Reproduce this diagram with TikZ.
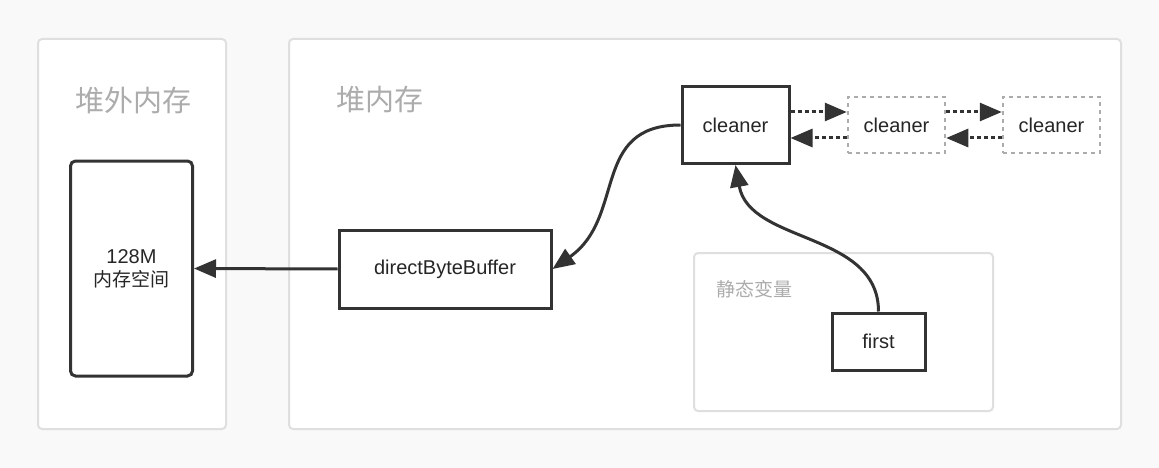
\documentclass[tikz,border=0pt]{standalone}
\usepackage{fontspec}
\setmainfont{Liberation Sans}
\newfontfamily\cjk{Noto Sans CJK SC}
\usetikzlibrary{arrows.meta}

\begin{document}
\begin{tikzpicture}[
        % 1pt 对应参考图中的 1 像素
        x=1pt, y=1pt,
        panel/.style={draw=gray!25, fill=white, line width=2pt, rounded corners=4pt},
        title/.style={text=gray!65, font=\cjk\fontsize{29}{32}\selectfont},
        subtitle/.style={text=gray!65, font=\cjk\fontsize{19}{21}\selectfont},
        box/.style={draw=black!80, fill=white, line width=3pt, align=center, text=black!85, font=\fontsize{20}{23}\selectfont},
        ghost/.style={draw=gray!65, fill=white, line width=2.5pt, dash pattern=on 4pt off 4pt, text=black!85, font=\fontsize{20}{23}\selectfont},
        % 箭头样式
        link/.style={-{Triangle[length=22pt,width=18pt]}, line width=3pt, draw=black!80},
        dashlink/.style={link, dash pattern=on 4pt off 3pt}
    ]

        % --- 参数定义 ---
        \def\gap{13}   % 双向虚线箭头的上下偏移

        % --- 1. 背景与面板 ---
        \fill[gray!5] (0,0) rectangle (1159,-468);
        \useasboundingbox (0,0) rectangle (1159,-468);
        \node[panel, minimum width=188pt, minimum height=390pt] (offheap) at (132,-234) {};
        \node[panel, minimum width=832pt, minimum height=390pt] (onheap) at (705,-234) {};
        \node[panel, minimum width=299pt, minimum height=158pt] (static) at (843.5,-332) {};

        % --- 2. 区域标题 ---
        \node[title] (offtitle) at (133,-100) {堆外内存};
        \node[title] (ontitle) at (379.5,-100) {堆内存};
        \node[subtitle] (statictitle) at (754,-289) {静态变量};

        % --- 3. 方框 ---
        \node[box, rounded corners=5pt, minimum width=122pt, minimum height=215pt] (mem) at (131.5,-268.5) {128M\\{\cjk\fontsize{19}{23}\selectfont 内存空间}};
        \node[box, minimum width=212pt, minimum height=78pt] (dbb) at (445,-269) {directByteBuffer};
        \node[box, minimum width=107pt, minimum height=77pt] (c1) at (735.5,-125) {cleaner};
        \node[ghost, minimum width=97pt, minimum height=56pt] (c2) at (896.5,-125) {cleaner};
        \node[ghost, minimum width=97pt, minimum height=56pt] (c3) at (1051.5,-125) {cleaner};
        \node[box, minimum width=93pt, minimum height=57pt] (first) at (878.5,-341.5) {first};

        % --- 4. 引用关系 ---
        \draw[link] (dbb.west) -- (mem.east);
        \draw[link] (c1.west) to[out=180, in=35, looseness=1.2] (dbb.east);
        \draw[link] (first.north) to[out=90, in=-80] (c1.south);

        % --- 5. cleaner 双向链表 ---
        \draw[dashlink] ([yshift=\gap]c1.east) -- ([yshift=\gap]c2.west);
        \draw[dashlink] ([yshift=-\gap]c2.west) -- ([yshift=-\gap]c1.east);
        \draw[dashlink] ([yshift=\gap]c2.east) -- ([yshift=\gap]c3.west);
        \draw[dashlink] ([yshift=-\gap]c3.west) -- ([yshift=-\gap]c2.east);

    \end{tikzpicture}
\end{document}
